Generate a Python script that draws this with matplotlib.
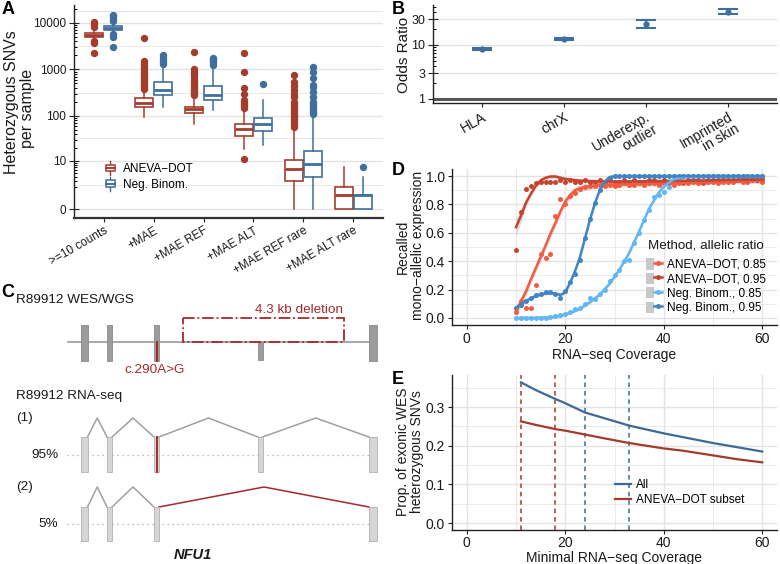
import numpy as np
import matplotlib
matplotlib.use('Agg')
import matplotlib.pyplot as plt
from matplotlib.patches import Rectangle, Patch
from matplotlib.lines import Line2D
from matplotlib.legend_handler import HandlerBase, HandlerTuple

plt.rcParams['font.family'] = ['Liberation Sans', 'DejaVu Sans']
plt.rcParams['axes.linewidth'] = 1.0

W, H = 780, 564
fig = plt.figure(figsize=(7.8, 5.64), dpi=100)


def ax_px(l, t, r, b):
    return fig.add_axes([l / W, 1 - b / H, (r - l) / W, (b - t) / H])


def ftext(x, y, s, **kw):
    return fig.text(x / W, 1 - y / H, s, **kw)


MINUS = '\u2212'
RED_A = '#a43c2c'
BLUE_A = '#3e6f9d'
TXT = '#1a1a1a'
GRID = '#e3e3e3'

# ---------------- Panel A data ----------------
categories_A = ['>=10 counts', '+MAE', '+MAE REF', '+MAE ALT', '+MAE REF rare', '+MAE ALT rare']
aneva_q1 = [4900, 152, 113, 36, 3.0, 0]
aneva_med = [5400, 194, 139, 51, 6.2, 1]
aneva_q3 = [6000, 245, 157, 68, 10.4, 2]
aneva_wlo = [4400, 95, 66, 19, 0, 0]
aneva_whi = [7500, 360, 257, 134, 51, 7]
aneva_out = [
    [2300, 3700, 4100, 8100, 9300, 10400],
    [380, 410, 450, 480, 520, 560, 600, 640, 700, 760, 830, 900, 1000, 1150, 1300, 1500, 4700],
    [280, 300, 320, 350, 380, 410, 450, 490, 540, 600, 680, 780, 880, 1000, 2400],
    [150, 165, 180, 200, 220, 300, 400, 900, 2300, 11],
    [58, 64, 70, 76, 83, 90, 98, 106, 115, 125, 135, 150, 165, 180, 200, 250, 300, 370, 450, 550, 750],
    [],
]
nb_q1 = [6900, 280, 225, 47, 4.0, 0]
nb_med = [7600, 370, 279, 68, 8.3, 1]
nb_q3 = [8400, 525, 437, 92, 16.7, 1]
nb_wlo = [6200, 153, 137, 22.5, 0, 0]
nb_whi = [10000, 1130, 1040, 218, 100, 4]
nb_out = [
    [3000, 5100, 5900, 10900, 12300, 13800, 15000],
    [1340, 1450, 1600, 1800, 2000],
    [1230, 1350, 1500, 1650, 1800],
    [480],
    [110, 120, 130, 145, 160, 180, 200, 260, 320, 420, 460, 650, 900, 1150],
    [7],
]

# ---------------- Panel B data ----------------
features_B = ['HLA', 'chrX', 'Underexp.\noutlier', 'Imprinted\nin skin']
or_est = [8.5, 12.9, 24.5, 41.0]
or_lo = [8.2, 12.2, 20.9, 37.0]
or_hi = [8.8, 13.6, 29.0, 45.8]

# ---------------- Panel D data ----------------
cov_D = list(range(10, 61))
pts_aneva85 = [0.04, 0.12, 0.07, 0.07, 0.23, 0.45, 0.42, 0.45, 0.72, 0.84,
               0.80, 0.86, 0.88, 0.91, 0.92, 0.93, 0.93, 0.94, 0.93, 0.94,
               0.93, 0.94, 0.95, 0.94, 0.94, 0.95, 0.94, 0.95, 0.95, 0.94,
               0.95, 0.95, 0.94, 0.95, 0.95, 0.95, 0.96, 0.95, 0.95, 0.96,
               0.96, 0.95, 0.96, 0.96, 0.96, 0.97, 0.96, 0.96, 0.97, 0.97, 0.96]
pts_aneva95 = [0.48, 0.75, 0.91, 0.93, 0.95, 0.96, 0.96, 0.96, 0.96, 0.97,
               0.96, 0.97, 0.96, 0.96, 0.97, 0.96, 0.96, 0.97, 0.96, 0.97,
               0.96, 0.96, 0.97, 0.96, 0.97, 0.96, 0.96, 0.97, 0.97, 0.96,
               0.97, 0.96, 0.97, 0.97, 0.96, 0.97, 0.97, 0.97, 0.96, 0.97,
               0.97, 0.97, 0.98, 0.97, 0.97, 0.97, 0.98, 0.97, 0.98, 0.97, 0.98]
pts_nb85 = [0.0, 0.0, 0.0, 0.0, 0.0, 0.0, 0.0, 0.005, 0.01, 0.02,
            0.03, 0.045, 0.06, 0.07, 0.10, 0.14, 0.13, 0.17, 0.20, 0.26,
            0.30, 0.34, 0.40, 0.41, 0.53, 0.60, 0.69, 0.76, 0.85, 0.87,
            0.89, 0.92, 0.97, 0.99, 1.0, 1.0, 1.0, 1.0, 1.0, 1.0,
            1.0, 1.0, 1.0, 1.0, 1.0, 1.0, 1.0, 1.0, 1.0, 1.0, 1.0]
pts_nb95 = [0.07, 0.09, 0.12, 0.14, 0.16, 0.17, 0.18, 0.18, 0.17, 0.14,
            0.19, 0.25, 0.31, 0.41, 0.56, 0.70, 0.81, 0.90, 0.96, 0.99,
            1.0, 1.0, 1.0, 1.0, 1.0, 1.0, 1.0, 1.0, 1.0, 1.0,
            1.0, 1.0, 1.0, 1.0, 1.0, 1.0, 1.0, 1.0, 1.0, 1.0,
            1.0, 1.0, 1.0, 1.0, 1.0, 1.0, 1.0, 1.0, 1.0, 1.0, 1.0]

fit_x_aneva85 = [10, 11, 12, 13, 14, 15, 16, 17, 18, 19, 20, 21, 22, 23, 24, 26, 30, 35, 40, 45, 50, 55, 60]
fit_aneva85 = [0.045, 0.115, 0.185, 0.27, 0.35, 0.43, 0.51, 0.595, 0.67, 0.75, 0.82, 0.865, 0.90,
               0.915, 0.923, 0.934, 0.94, 0.943, 0.947, 0.952, 0.957, 0.962, 0.967]
se_aneva85 = [0.04, 0.035, 0.03, 0.03, 0.03, 0.03, 0.03, 0.03, 0.03, 0.03, 0.03, 0.028, 0.025,
              0.025, 0.025, 0.022, 0.02, 0.018, 0.016, 0.015, 0.015, 0.015, 0.02]
fit_x_aneva95 = [10, 11, 12, 13, 14, 15, 16, 17, 18, 19, 20, 21, 23, 26, 30, 35, 40, 45, 50, 55, 60]
fit_aneva95 = [0.64, 0.72, 0.81, 0.875, 0.93, 0.97, 0.988, 0.997, 0.997, 0.988, 0.98, 0.975,
               0.968, 0.963, 0.962, 0.963, 0.965, 0.967, 0.970, 0.973, 0.976]
se_aneva95 = [0.06, 0.045, 0.03, 0.022, 0.018, 0.015, 0.015, 0.015, 0.015, 0.015, 0.015, 0.015,
              0.015, 0.015, 0.015, 0.015, 0.015, 0.015, 0.015, 0.015, 0.018]
fit_x_nb85 = [10, 14, 17, 19, 21, 23, 25, 27, 29, 30, 31, 33, 35, 37, 39, 40, 41, 42, 43, 45, 50, 60]
fit_nb85 = [0.0, 0.0, 0.005, 0.015, 0.035, 0.065, 0.11, 0.165, 0.24, 0.29, 0.34, 0.46, 0.61,
            0.77, 0.885, 0.925, 0.955, 0.975, 0.988, 0.998, 1.0, 1.0]
se_nb85 = [0.01] * len(fit_x_nb85)
fit_x_nb95 = [10, 11, 12, 13, 14, 15, 16, 17, 18, 19, 20, 21, 22, 23, 24, 25, 26, 27, 28, 29, 30, 40, 50, 60]
fit_nb95 = [0.073, 0.096, 0.12, 0.138, 0.155, 0.166, 0.173, 0.176, 0.171, 0.162, 0.18, 0.25,
            0.33, 0.43, 0.56, 0.69, 0.806, 0.9, 0.962, 0.993, 1.0, 1.0, 1.0, 1.0]
se_nb95 = [0.02, 0.015, 0.012, 0.012, 0.012, 0.012, 0.012, 0.012, 0.012, 0.012, 0.012, 0.012,
           0.012, 0.012, 0.012, 0.012, 0.012, 0.012, 0.012, 0.01, 0.01, 0.01, 0.01, 0.01]

series_D = ['ANEVA' + MINUS + 'DOT, 0.85', 'ANEVA' + MINUS + 'DOT, 0.95',
            'Neg. Binom., 0.85', 'Neg. Binom., 0.95']
colors_D = ['#f45b40', '#c8432f', '#5fb7f4', '#3f84c4']

# ---------------- Panel E data ----------------
cov_E = [11, 14, 18, 20, 24, 28, 33, 40, 44, 50, 55, 60]
prop_all = [0.364, 0.344, 0.321, 0.310, 0.286, 0.271, 0.252, 0.232, 0.222, 0.207, 0.196, 0.185]
prop_aneva = [0.263, 0.254, 0.243, 0.239, 0.229, 0.219, 0.207, 0.193, 0.187, 0.175, 0.165, 0.157]
thr_aneva = [11, 18]
thr_nb = [24, 33]
BLUE_E = '#3d6a95'
RED_E = '#a23b2c'

# ---------------- Panel C data ----------------
exon_start = [81, 107, 154, 258, 369]
exon_end = [87.5, 112, 159, 262.5, 376.5]
iso2_exons = [0, 1, 2, 4]
iso1_junctions = [(0, 1), (1, 2), (2, 3), (3, 4)]
iso2_junctions = [(0, 1), (1, 2), (2, 4)]
iso_labels = ['(1)', '(2)']
iso_pct = ['95%', '5%']


def style_axes(ax, tick_size=8.5):
    for s in ['top', 'right']:
        ax.spines[s].set_visible(False)
    for s in ['left', 'bottom']:
        ax.spines[s].set_color('#222222')
    ax.tick_params(colors='#222222', labelcolor=TXT, labelsize=tick_size, length=3, width=0.8, pad=2)


# ================= Panel A =================
axA = ax_px(74, 5, 383, 218)
fwd = lambda v: np.log10(np.asarray(v, dtype=float) + 1)
inv = lambda v: 10 ** np.asarray(v, dtype=float) - 1
axA.set_yscale('function', functions=(fwd, inv))
style_axes(axA)
axA.spines['bottom'].set_linewidth(1.6)
axA.spines['bottom'].set_color('#333333')

pos = np.arange(1, len(categories_A) + 1)
for (q1, med, q3, wlo, whi, out, col, off) in [
        (aneva_q1, aneva_med, aneva_q3, aneva_wlo, aneva_whi, aneva_out, RED_A, -0.19),
        (nb_q1, nb_med, nb_q3, nb_wlo, nb_whi, nb_out, BLUE_A, 0.19)]:
    stats = []
    for i in range(len(categories_A)):
        stats.append(dict(med=med[i], q1=q1[i], q3=q3[i], whislo=wlo[i], whishi=whi[i],
                          fliers=out[i]))
    axA.bxp(stats, positions=pos + off, widths=0.36, patch_artist=True, showcaps=False,
            boxprops=dict(facecolor='white', edgecolor=col, linewidth=1.2),
            medianprops=dict(color=col, linewidth=2.0),
            whiskerprops=dict(color=col, linewidth=1.1),
            flierprops=dict(marker='o', markerfacecolor=col, markeredgecolor=col,
                            markersize=4.3, linestyle='none'),
            manage_ticks=False, zorder=3)

axA.set_xlim(0.4, 6.6)
axA.set_ylim(inv(-0.19), inv(4.385))
major_A = [0, 10, 100, 1000, 10000]
axA.set_yticks(major_A)
axA.set_yticklabels([str(v) for v in major_A])
minor_A = [k * 10 ** n for n in range(0, 5) for k in range(2, 10) if k * 10 ** n < 22000]
axA.set_yticks(minor_A, minor=True)
axA.tick_params(axis='y', which='minor', length=2.2, width=0.7, direction='in')
axA.tick_params(axis='y', which='major', length=7, direction='inout', pad=2)
tr = fwd(major_A)
for t in tr:
    axA.axhline(inv(t), color=GRID, lw=1.0, zorder=0)
for a, b in zip(tr[:-1], tr[1:]):
    axA.axhline(inv((a + b) / 2), color=GRID, lw=0.6, zorder=0)
axA.axhline(inv(4.25), color=GRID, lw=0.6, zorder=0)
axA.set_xticks(pos)
axA.set_xticklabels(categories_A, rotation=30, ha='right', rotation_mode='anchor', fontsize=8.5)
axA.tick_params(axis='x', length=3, pad=2)
ftext(12, 102, 'Heterozygous SNVs', rotation=90, fontsize=11.5, color=TXT, ha='center', va='center')
ftext(28, 108, 'per sample', rotation=90, fontsize=11.5, color=TXT, ha='center', va='center')


class BoxHandler(HandlerBase):
    def create_artists(self, legend, orig_handle, xdescent, ydescent, width, height, fontsize, trans):
        c = orig_handle.get_edgecolor()
        x0 = -xdescent
        y0 = -ydescent
        bw = width * 0.8
        bx = x0 + (width - bw) / 2
        bh = height * 0.6
        by = y0 + (height - bh) / 2
        rect = Rectangle((bx, by), bw, bh, facecolor='white', edgecolor=c, lw=1.1, transform=trans)
        cx = x0 + width / 2
        w1 = Line2D([cx, cx], [y0 - 1, by], color=c, lw=1.0, transform=trans)
        w2 = Line2D([cx, cx], [by + bh, y0 + height + 1], color=c, lw=1.0, transform=trans)
        m = Line2D([bx, bx + bw], [by + bh / 2, by + bh / 2], color=c, lw=1.4, transform=trans)
        return [w1, w2, rect, m]


hA = [Patch(edgecolor=RED_A, facecolor='white'), Patch(edgecolor=BLUE_A, facecolor='white')]
axA.legend(hA, ['ANEVA' + MINUS + 'DOT', 'Neg. Binom.'], handler_map={Patch: BoxHandler()},
           loc='upper left', bbox_to_anchor=(102 / W, 1 - 160 / H), bbox_transform=fig.transFigure,
           frameon=False, fontsize=8.5, handlelength=1.0, handleheight=1.1, handletextpad=0.6,
           labelspacing=0.25, borderaxespad=0, borderpad=0.2)

# ================= Panel B =================
axB = ax_px(433, 5, 777, 103)
style_axes(axB, tick_size=9)
axB.set_yscale('log')
xb = np.arange(1, len(features_B) + 1)
est = np.array(or_est)
axB.errorbar(xb, est, yerr=[est - np.array(or_lo), np.array(or_hi) - est], fmt='o',
             color=BLUE_A, ms=3.5, capsize=7.5, elinewidth=1.2, capthick=1.5, zorder=3)
axB.set_xlim(0.4, 4.6)
axB.set_ylim(0.843, 55)
axB.set_yticks([1, 3, 10, 30])
axB.set_yticklabels(['1', '3', '10', '30'])
axB.yaxis.set_minor_locator(matplotlib.ticker.FixedLocator(
    [k * 10 ** n for n in range(0, 2) for k in range(2, 10) if k * 10 ** n < 55]))
axB.yaxis.set_minor_formatter(matplotlib.ticker.NullFormatter())
axB.tick_params(axis='y', which='minor', length=2.2, width=0.7, direction='in')
axB.tick_params(axis='y', which='major', length=7, direction='inout', pad=2)
for v in [3, 10, 30]:
    axB.axhline(v, color=GRID, lw=1.0, zorder=0)
axB.axhline(1, color='#555555', lw=2.2, zorder=2)
axB.set_xticks(xb)
axB.set_xticklabels(features_B, rotation=30, ha='right', rotation_mode='anchor', fontsize=10,
                    linespacing=1.0)
ftext(404, 55, 'Odds Ratio', rotation=90, fontsize=11, color=TXT, ha='center', va='center')

# ================= Panel C =================
axC = ax_px(0, 285, 390, 564)
axC.set_xlim(0, 390)
axC.set_ylim(564, 285)
axC.axis('off')
RED_C = '#a8282a'
CFS = 9.7
axC.text(16, 300, 'R89912 WES/WGS', fontsize=CFS, va='center', ha='left', color=TXT)
axC.plot([68, 374], [342.3, 342.3], color='#9a9a9a', lw=1.2, zorder=1)
for i, (s, e) in enumerate(zip(exon_start, exon_end)):
    if i == 3:
        axC.add_patch(Rectangle((s, 342.3), e - s, 18, facecolor='#9c9c9c', edgecolor='#8a8a8a', lw=0.6, zorder=2))
    else:
        axC.add_patch(Rectangle((s, 325), e - s, 36, facecolor='#9c9c9c', edgecolor='#8a8a8a', lw=0.6, zorder=2))
axC.plot([156.5, 156.5], [342.3, 361], color=RED_C, lw=1.4, zorder=3)
axC.text(155, 370, 'c.290A>G', fontsize=CFS, va='center', ha='center', color=RED_C)
axC.add_patch(Rectangle((183.3, 318), 344 - 183.3, 342.3 - 318, facecolor='none', edgecolor=RED_C,
                        lw=1.3, linestyle='-.', zorder=3))
axC.text(299, 310, '4.3 kb deletion', fontsize=CFS, va='center', ha='center', color=RED_C)

axC.text(16, 396, 'R89912 RNA-seq', fontsize=CFS, va='center', ha='left', color=TXT)
iso_geom = [(437, 472, 418), (507, 541, 487)]
iso_exons = [list(range(5)), iso2_exons]
iso_juncs = [iso1_junctions, iso2_junctions]
for k in range(2):
    top, bot, peak = iso_geom[k]
    axC.text(16, peak, iso_labels[k], fontsize=CFS, va='center', ha='left', color=TXT)
    mid = (top + bot) / 2
    axC.plot([67, 370], [mid, mid], color='#aaaaaa', lw=0.9, linestyle=(0, (1, 3)), zorder=1)
    axC.text(58, mid, iso_pct[k], fontsize=CFS, va='center', ha='right', color=TXT)
    for i in iso_exons[k]:
        axC.add_patch(Rectangle((exon_start[i], top), exon_end[i] - exon_start[i], bot - top,
                                facecolor='#d6d6d6', edgecolor='#b0b0b0', lw=0.6, zorder=2))
    for (a, b) in iso_juncs[k]:
        xa, xb2 = exon_end[a], exon_start[b]
        col = RED_C if (k == 1 and b - a > 1) else '#a0a0a0'
        axC.plot([xa, (xa + xb2) / 2, xb2], [top, peak, top], color=col, lw=1.1, zorder=1)
axC.plot([156.5, 156.5], [437, 472], color=RED_C, lw=1.4, zorder=3)
axC.text(193, 555, 'NFU1', fontsize=10.5, fontweight='bold', fontstyle='italic', va='center',
         ha='center', color=TXT)


def grid_axes(ax, xmaj, xmin, ymaj, ymin):
    for v in xmaj:
        ax.axvline(v, color=GRID, lw=1.0, zorder=0)
    for v in xmin:
        ax.axvline(v, color=GRID, lw=0.5, zorder=0)
    for v in ymaj:
        ax.axhline(v, color=GRID, lw=1.0, zorder=0)
    for v in ymin:
        ax.axhline(v, color=GRID, lw=0.5, zorder=0)


# ================= Panel D =================
axD = ax_px(452, 169, 777, 325)
style_axes(axD, tick_size=10)
grid_axes(axD, [0, 20, 40, 60], [10, 30, 50], [0, 0.2, 0.4, 0.6, 0.8, 1.0], [0.1, 0.3, 0.5, 0.7, 0.9])
pts_all = [pts_aneva85, pts_aneva95, pts_nb85, pts_nb95]
fits = [(fit_x_aneva85, fit_aneva85, se_aneva85), (fit_x_aneva95, fit_aneva95, se_aneva95),
        (fit_x_nb85, fit_nb85, se_nb85), (fit_x_nb95, fit_nb95, se_nb95)]
for (fx, fy, se) in fits:
    fx = np.array(fx); fy = np.array(fy); se = np.array(se)
    axD.fill_between(fx, fy - se, fy + se, color='#9a9a9a', alpha=0.35, lw=0, zorder=1)
for pts, (fx, fy, se), col in zip(pts_all, fits, colors_D):
    axD.plot(cov_D, pts, 'o', color=col, ms=3.6, zorder=3, mew=0)
    axD.plot(fx, fy, color=col, lw=1.8, zorder=4)
axD.set_xlim(-3, 63)
axD.set_ylim(-0.05, 1.05)
axD.set_xticks([0, 20, 40, 60])
axD.set_yticks([0, 0.2, 0.4, 0.6, 0.8, 1.0])
axD.set_yticklabels(['0.0', '0.2', '0.4', '0.6', '0.8', '1.0'])
axD.set_xlabel('RNA' + MINUS + 'seq Coverage', fontsize=10, color=TXT, labelpad=1.5)
ftext(403, 247, 'Recalled', rotation=90, fontsize=10, color=TXT, ha='center', va='center')
ftext(418, 245, 'mono' + MINUS + 'allelic expression', rotation=90, fontsize=10, color=TXT,
      ha='center', va='center')
ftext(648, 245, 'Method, allelic ratio', fontsize=9.6, color=TXT, ha='left', va='center')
hD = [(Patch(facecolor='#c8c8c8', edgecolor='none'),
       Line2D([], [], color=c, lw=1.8, marker='o', ms=3.6, mew=0)) for c in colors_D]
legD = axD.legend(hD, series_D, handler_map={tuple: HandlerTuple(ndivide=None, pad=0)},
                  loc='upper left',
                  bbox_to_anchor=(645 / W, 1 - 257 / H), bbox_transform=fig.transFigure,
                  frameon=False, fontsize=8.5, handlelength=1.3,
                  handleheight=1.1, handletextpad=0.5, labelspacing=0.15, borderaxespad=0,
                  borderpad=0.1)
legD.set_zorder(10)

# ================= Panel E =================
axE = ax_px(452, 375, 777, 530)
style_axes(axE, tick_size=10)
grid_axes(axE, [0, 20, 40, 60], [10, 30, 50], [0, 0.1, 0.2, 0.3], [0.05, 0.15, 0.25, 0.35])
for v in thr_aneva:
    axE.axvline(v, color=RED_E, lw=1.1, linestyle=(0, (3, 2.5)), zorder=2)
for v in thr_nb:
    axE.axvline(v, color=BLUE_E, lw=1.1, linestyle=(0, (3, 2.5)), zorder=2)
axE.plot(cov_E, prop_all, color=BLUE_E, lw=1.6, label='All', zorder=3)
axE.plot(cov_E, prop_aneva, color=RED_E, lw=1.6, label='ANEVA' + MINUS + 'DOT subset', zorder=3)
axE.set_xlim(-3, 63)
axE.set_ylim(-0.018, 0.383)
axE.set_xticks([0, 20, 40, 60])
axE.set_yticks([0, 0.1, 0.2, 0.3])
axE.set_yticklabels(['0.0', '0.1', '0.2', '0.3'])
axE.tick_params(axis='x', pad=1.5)
axE.set_xlabel('Minimal RNA' + MINUS + 'seq Coverage', fontsize=10, color=TXT, labelpad=0.5)
ftext(403, 452, 'Prop. of exonic WES', rotation=90, fontsize=10, color=TXT, ha='center', va='center')
ftext(417, 452, 'heterozygous SNVs', rotation=90, fontsize=10, color=TXT, ha='center', va='center')
axE.legend(loc='upper left', bbox_to_anchor=(614 / W, 1 - 478 / H), bbox_transform=fig.transFigure,
           frameon=False, fontsize=8.5, handlelength=1.3, handletextpad=0.5, labelspacing=0.25,
           borderaxespad=0, borderpad=0.1)

# panel letters
for lab, x, y in [('A', 2, 1), ('B', 392, 1), ('C', 1, 284), ('D', 392, 162), ('E', 392, 371)]:
    ftext(x, y, lab, fontsize=13, fontweight='bold', va='top', ha='left', color='black')

fig.savefig('out.png', dpi=100)
